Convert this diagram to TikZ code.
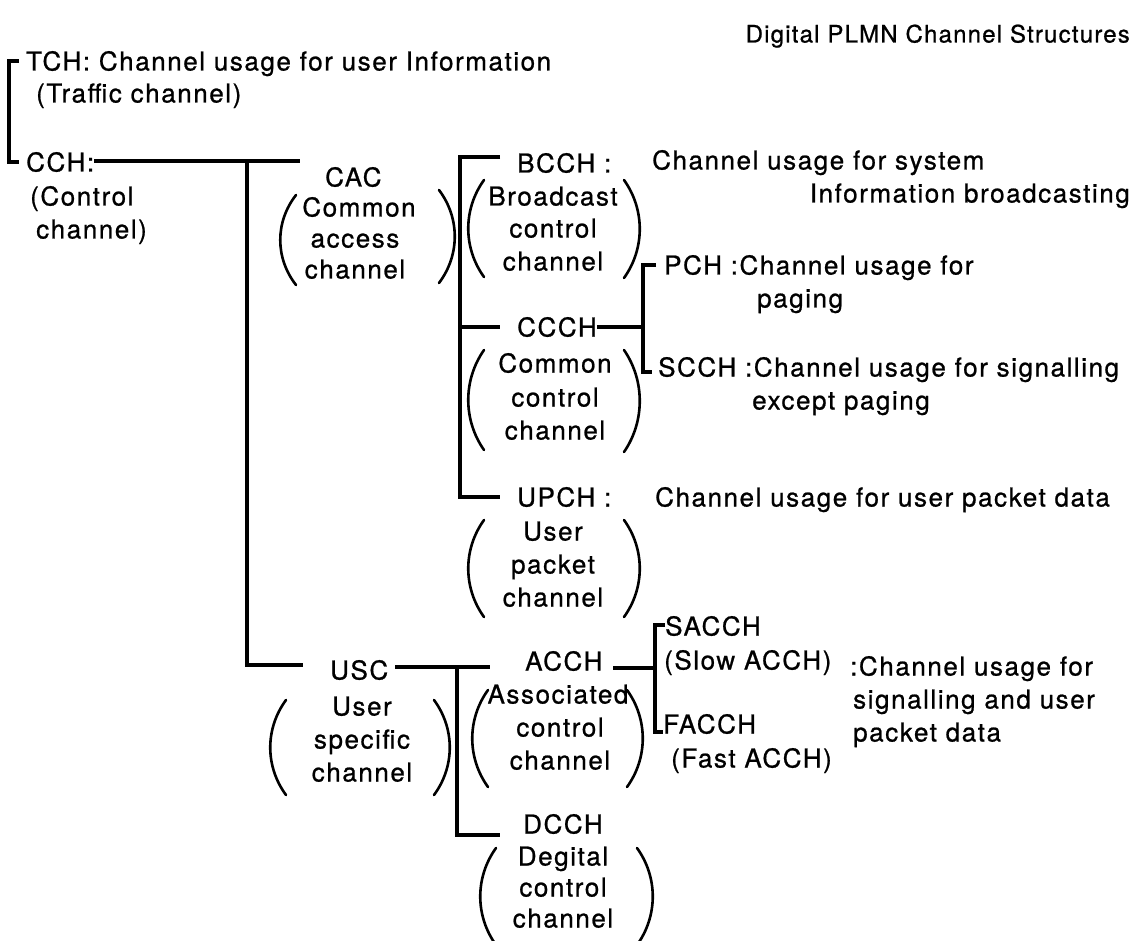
\documentclass[tikz,border=0pt]{standalone}
\usepackage{fontspec}
\setmainfont[LetterSpace=6,FakeBold=0.8]{TeX Gyre Heros}
\newcommand\myLP[3]{\draw[par] (#1+16,#2) .. controls (#1-5,{#2+0.3*(#3-#2)}) and (#1-5,{#3-0.3*(#3-#2)}) .. (#1+16,#3);}
\newcommand\myRP[3]{\draw[par] (#1-16,#2) .. controls (#1+5,{#2+0.3*(#3-#2)}) and (#1+5,{#3-0.3*(#3-#2)}) .. (#1-16,#3);}
\begin{document}
\begin{tikzpicture}[x=1pt,y=-1pt,
  lbl/.style={inner sep=0pt, anchor=west, text height=19pt, text depth=0pt, font=\fontsize{26}{33}\selectfont},
  cl/.style={lbl, anchor=center},
  conn/.style={line width=3.2pt, line cap=butt, line join=miter},
  par/.style={line width=2.6pt, line cap=round}]
\fill[white] (0,0) rectangle (1143,941);
\useasboundingbox (0,0) rectangle (1143,941);

% title
\node[lbl, anchor=east, text height=17pt, font=\fontsize{24}{28}\selectfont\addfontfeature{LetterSpace=5}] (title) at (1130,34) {Digital PLMN Channel Structures};

% TCH / CCH
\node[lbl] (tch) at (26,61) {TCH: Channel usage for user Information};
\node[lbl] (tchb) at (36,93) {(Traffic channel)};
\node[lbl] (cch) at (26,162) {CCH:};
\node[lbl] (cchb1) at (30,196) {(Control};
\node[lbl] (cchb2) at (36,229) {channel)};
\coordinate (bx) at (9,110);
\draw[conn] ([xshift=-7pt]tch.west) -| (bx) |- ([xshift=-7pt]cch.west);

% CAC
\node[lbl] (cac) at (325,177) {CAC};
\node[cl] (cac1) at (359,207) {Common};
\node[cl] (cac2) at (355,238) {access};
\node[cl] (cac3) at (355,269) {channel};
\myLP{280}{195}{285}
\myRP{455}{190}{283}

\coordinate (j1) at (247,161);
\coordinate (j1e) at (300,161);
\coordinate (j1b) at (247,665);
\coordinate (j1be) at (303,665);
\draw[conn] (cch.east |- j1) -- (j1e);
\draw[conn] (j1) -- (j1b) -- (j1be);

% BCCH / CCCH / UPCH bracket
\coordinate (k2a) at (500,157);
\coordinate (k2t) at (460,157);
\coordinate (k2m) at (460,327);
\coordinate (k2me) at (500,327);
\coordinate (k2b) at (460,497);
\coordinate (k2be) at (500,497);
\draw[conn] (k2a) -- (k2t) -- (k2b) -- (k2be);
\draw[conn] (k2m) -- (k2me);

% BCCH
\node[lbl] (bcch) at (517,163) {BCCH :};
\node[cl] (bc1) at (553,196) {Broadcast};
\node[cl] (bc2) at (553,228) {control};
\node[cl] (bc3) at (553,261) {channel};
\myLP{468}{180}{277}
\myRP{640}{180}{278}
\node[lbl] (bcd1) at (652,160) {Channel usage for system};
\node[lbl, anchor=east] (bcd2) at (1130,193) {Information broadcasting};

% CCCH
\node[lbl] (ccch) at (517,327) {CCCH};
\node[cl] (cc1) at (555,363) {Common};
\node[cl] (cc2) at (555,397) {control};
\node[cl] (cc3) at (555,430) {channel};
\myLP{468}{350}{450}
\myRP{640}{350}{452}

\coordinate (k3m) at (643,327);
\coordinate (k3t) at (643,265);
\coordinate (k3te) at (656,265);
\coordinate (k3b) at (643,372);
\coordinate (k3be) at (652,372);
\draw[conn] (ccch.east |- k3m) -- (k3m);
\draw[conn] (k3te) -- (k3t) -- (k3b) -- (k3be);

\node[lbl] (pch) at (664,265) {PCH :Channel usage for};
\node[lbl] (pch2) at (757,298) {paging};
\node[lbl] (scch) at (658,367) {SCCH :Channel usage for signalling};
\node[lbl] (scch2) at (752,400) {except paging};

% UPCH
\node[lbl] (upch) at (517,497) {UPCH :};
\node[lbl] (upd) at (655,497) {Channel usage for user packet data};
\node[cl] (up1) at (553,531) {User};
\node[cl] (up2) at (553,564) {packet};
\node[cl] (up3) at (553,597) {channel};
\myLP{468}{520}{617}
\myRP{640}{520}{617}

% USC
\node[lbl] (usc) at (330,670) {USC};
\node[cl] (us1) at (362,706) {User};
\node[cl] (us2) at (362,739) {specific};
\node[cl] (us3) at (362,772) {channel};
\myLP{270}{700}{795}
\myRP{450}{700}{795}

\coordinate (k4s) at (395,667);
\coordinate (k4e) at (490,667);
\coordinate (k4t) at (457,667);
\coordinate (k4b) at (457,835);
\coordinate (k4be) at (500,835);
\draw[conn] (k4s) -- (k4e);
\draw[conn] (k4t) -- (k4b) -- (k4be);

% ACCH
\node[lbl] (acch) at (525,661) {ACCH};
\node[cl] (ac1) at (558,694) {Associated};
\node[cl] (ac2) at (560,727) {control};
\node[cl] (ac3) at (560,760) {channel};
\myLP{472}{690}{787}
\myRP{643}{690}{787}

\coordinate (k5s) at (613,668);
\coordinate (k5m) at (655,668);
\coordinate (k5t) at (655,625);
\coordinate (k5te) at (665,625);
\coordinate (k5b) at (655,732);
\coordinate (k5be) at (663,732);
\draw[conn] (k5s) -- (k5m);
\draw[conn] (k5te) -- (k5t) -- (k5b) -- (k5be);

\node[lbl] (sacch) at (665,626) {SACCH};
\node[lbl] (sacch2) at (664,660) {(Slow ACCH)};
\node[lbl] (facch) at (663,724) {FACCH};
\node[lbl] (facch2) at (671,758) {(Fast ACCH)};
\node[lbl] (acd1) at (850,666) {:Channel usage for};
\node[lbl] (acd2) at (853,699) {signalling and user};
\node[lbl] (acd3) at (853,732) {packet data};

% DCCH
\node[lbl] (dcch) at (523,824) {DCCH};
\node[cl] (dc1) at (563,856) {Degital};
\node[cl] (dc2) at (563,887) {control};
\node[cl] (dc3) at (563,918) {channel};
\myLP{480}{848}{945}
\myRP{653}{848}{945}
\end{tikzpicture}
\end{document}
